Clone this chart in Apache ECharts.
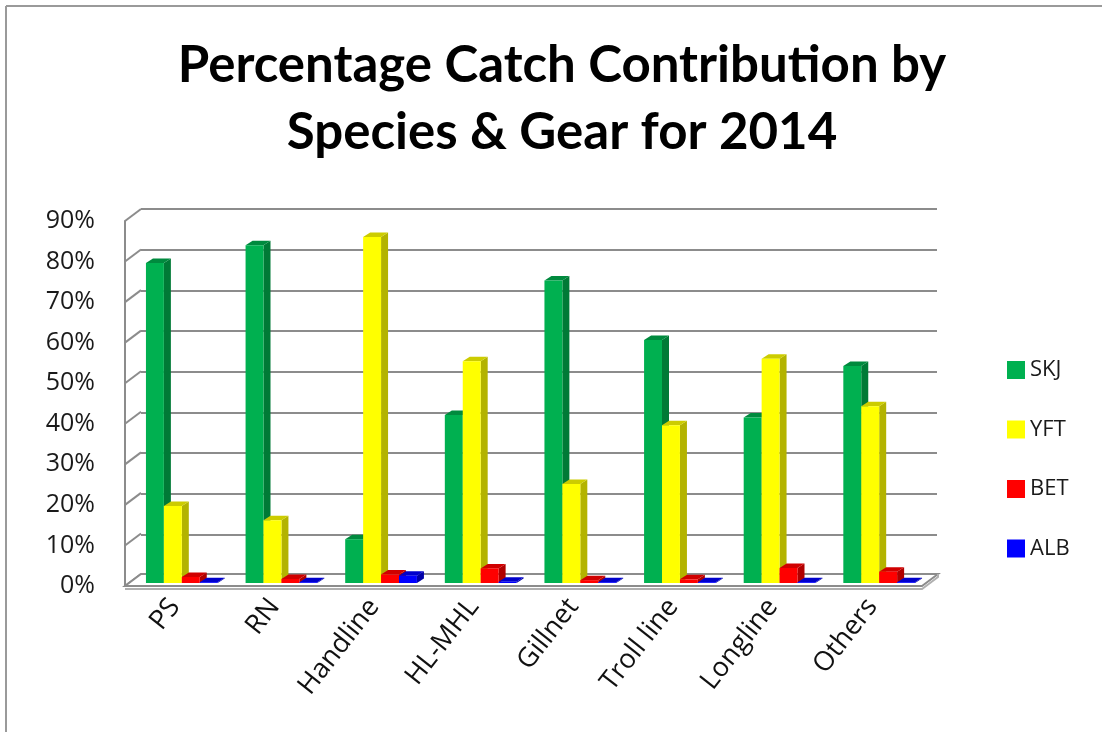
<!DOCTYPE html>
<html>
<head>
<meta charset="utf-8">
<script src="https://cdn.jsdelivr.net/npm/echarts@6/dist/echarts.min.js"></script>
<style>
  html, body { margin: 0; padding: 0; background: #ffffff; }
  #chart { width: 1102px; height: 732px; }
</style>
</head>
<body>
<div id="chart"></div>
<script>
// Gear categories and species shares (fraction of catch)
const categories = ['PS', 'RN', 'Handline', 'HL-MHL', 'Gillnet', 'Troll line', 'Longline', 'Others'];
const skj = [0.789, 0.833, 0.108, 0.414, 0.746, 0.599, 0.408, 0.535];
const yft = [0.190, 0.155, 0.853, 0.547, 0.244, 0.389, 0.553, 0.436];
const bet = [0.015, 0.010, 0.021, 0.036, 0.007, 0.009, 0.037, 0.028];
const alb = [0.002, 0.002, 0.018, 0.003, 0.002, 0.002, 0.002, 0.002];
const speciesNames = ['SKJ', 'YFT', 'BET', 'ALB'];
const speciesValues = [skj, yft, bet, alb];
const yTicks = [0, 0.1, 0.2, 0.3, 0.4, 0.5, 0.6, 0.7, 0.8, 0.9];

// Face colours: front, side, top
const palette = [
  { front: '#00b050', side: '#007a36', top: '#008a3e' },
  { front: '#ffff00', side: '#b3b300', top: '#cccc00' },
  { front: '#ff0000', side: '#b00000', top: '#d00000' },
  { front: '#0000ff', side: '#0000a8', top: '#0000cc' }
];

// Depth of the plot box (back wall offset from front plane)
const DEPTH_X = 16, DEPTH_Y = -12;
// Depth of each bar
const BAR_DX = 7, BAR_DY = -4.5;
const GRID_COLOR = '#8c8c8c';

const chart = echarts.init(document.getElementById('chart'));

function barSeries(sIdx) {
  return {
    name: speciesNames[sIdx],
    type: 'custom',
    xAxisIndex: 2,
    yAxisIndex: 2,
    z: 5,
    itemStyle: { color: palette[sIdx].front },
    data: speciesValues[sIdx].map((v, i) => [i, v]),
    renderItem: function (params, api) {
      const ci = api.value(0);
      const v = api.value(1);
      const top = api.coord([ci, v]);
      const base = api.coord([ci, 0]);
      const band = api.size([1, 0])[0];
      const bw = band * 0.18;
      const x = top[0] - 2 * bw + sIdx * bw;
      const y = top[1];
      const y0 = base[1];
      const c = palette[sIdx];
      return {
        type: 'group',
        children: [
          {
            type: 'polygon',
            shape: { points: [[x + bw, y], [x + bw + BAR_DX, y + BAR_DY], [x + bw + BAR_DX, y0 + BAR_DY], [x + bw, y0]] },
            style: { fill: c.side }
          },
          {
            type: 'polygon',
            shape: { points: [[x, y], [x + BAR_DX, y + BAR_DY], [x + bw + BAR_DX, y + BAR_DY], [x + bw, y]] },
            style: { fill: c.top }
          },
          {
            type: 'rect',
            shape: { x: x, y: y, width: bw, height: y0 - y },
            style: { fill: c.front }
          }
        ]
      };
    }
  };
}

// Side-wall diagonals and the floor slab, drawn from the front axis
const frameSeries = {
  type: 'custom',
  xAxisIndex: 1,
  yAxisIndex: 1,
  silent: true,
  z: 1,
  data: yTicks.map(t => [0, t]),
  renderItem: function (params, api) {
    const cs = params.coordSys;
    const t = api.value(1);
    const y = api.coord([0, t])[1];
    const x = cs.x;
    const children = [{
      type: 'line',
      shape: { x1: x, y1: y, x2: x + DEPTH_X, y2: y + DEPTH_Y },
      style: { stroke: GRID_COLOR, lineWidth: 2 }
    }];
    if (t === 0) {
      const xr = cs.x + cs.width;
      children.push({
        type: 'polygon',
        shape: { points: [[x, y], [xr, y], [xr + DEPTH_X, y + DEPTH_Y], [x + DEPTH_X, y + DEPTH_Y]] },
        style: { fill: '#ffffff', stroke: GRID_COLOR, lineWidth: 2 }
      });
      children.push({
        type: 'polyline',
        shape: { points: [[x, y + 3], [xr, y + 3], [xr + DEPTH_X, y + DEPTH_Y + 3], [xr + DEPTH_X, y + DEPTH_Y]] },
        style: { fill: null, stroke: '#b0b0b0', lineWidth: 2 }
      });
    }
    return { type: 'group', children: children };
  }
};

const option = {
  backgroundColor: '#ffffff',
  animation: false,
  title: {
    text: 'Percentage Catch Contribution by\nSpecies & Gear for 2014',
    left: 557,
    top: 27,
    textAlign: 'center',
    textStyle: {
      fontFamily: 'Lato',
      fontWeight: 'bold',
      fontSize: 51,
      lineHeight: 67,
      color: '#000000'
    }
  },
  legend: {
    orient: 'vertical',
    left: 1007,
    top: 359,
    padding: 0,
    itemWidth: 18,
    itemHeight: 18,
    itemGap: 37.5,
    icon: 'rect',
    data: speciesNames,
    textStyle: { fontFamily: 'Open Sans', fontSize: 22, color: '#1a1a1a', lineHeight: 18, padding: [0, 0, 0, 0] }
  },
  graphic: [
    { type: 'line', shape: { x1: 6, y1: 6, x2: 1102, y2: 6 }, style: { stroke: '#9a9a9a', lineWidth: 2 } },
    { type: 'line', shape: { x1: 6, y1: 6, x2: 6, y2: 732 }, style: { stroke: '#9a9a9a', lineWidth: 2 } }
  ],
  grid: [
    // back wall
    { left: 141, top: 209, width: 796, height: 366 },
    // front plane (axis labels)
    { left: 125, top: 221, width: 797, height: 365 },
    // bar plane
    { left: 132, top: 218, width: 797, height: 365 }
  ],
  xAxis: [
    { gridIndex: 0, type: 'category', data: categories, show: false },
    {
      gridIndex: 1, type: 'category', data: categories,
      axisLine: { show: false }, axisTick: { show: false },
      axisLabel: {
        rotate: 52, margin: 16, interval: 0,
        fontFamily: 'Open Sans', fontSize: 27, color: '#111111'
      }
    },
    { gridIndex: 2, type: 'category', data: categories, show: false }
  ],
  yAxis: [
    {
      gridIndex: 0, type: 'value', min: 0, max: 0.9, interval: 0.1,
      axisLine: { show: false }, axisTick: { show: false }, axisLabel: { show: false },
      splitLine: { show: true, lineStyle: { color: GRID_COLOR, width: 2 } }
    },
    {
      gridIndex: 1, type: 'value', min: 0, max: 0.9, interval: 0.1,
      axisLine: { show: true, lineStyle: { color: GRID_COLOR, width: 2 } },
      axisTick: { show: false },
      splitLine: { show: false },
      axisLabel: {
        margin: 30,
        fontFamily: 'Open Sans', fontSize: 25, color: '#1a1a1a',
        formatter: v => Math.round(v * 100) + '%'
      }
    },
    { gridIndex: 2, type: 'value', min: 0, max: 0.9, interval: 0.1, show: false, splitLine: { show: false } }
  ],
  series: [frameSeries, barSeries(0), barSeries(1), barSeries(2), barSeries(3)]
};

chart.setOption(option);
</script>
</body>
</html>
